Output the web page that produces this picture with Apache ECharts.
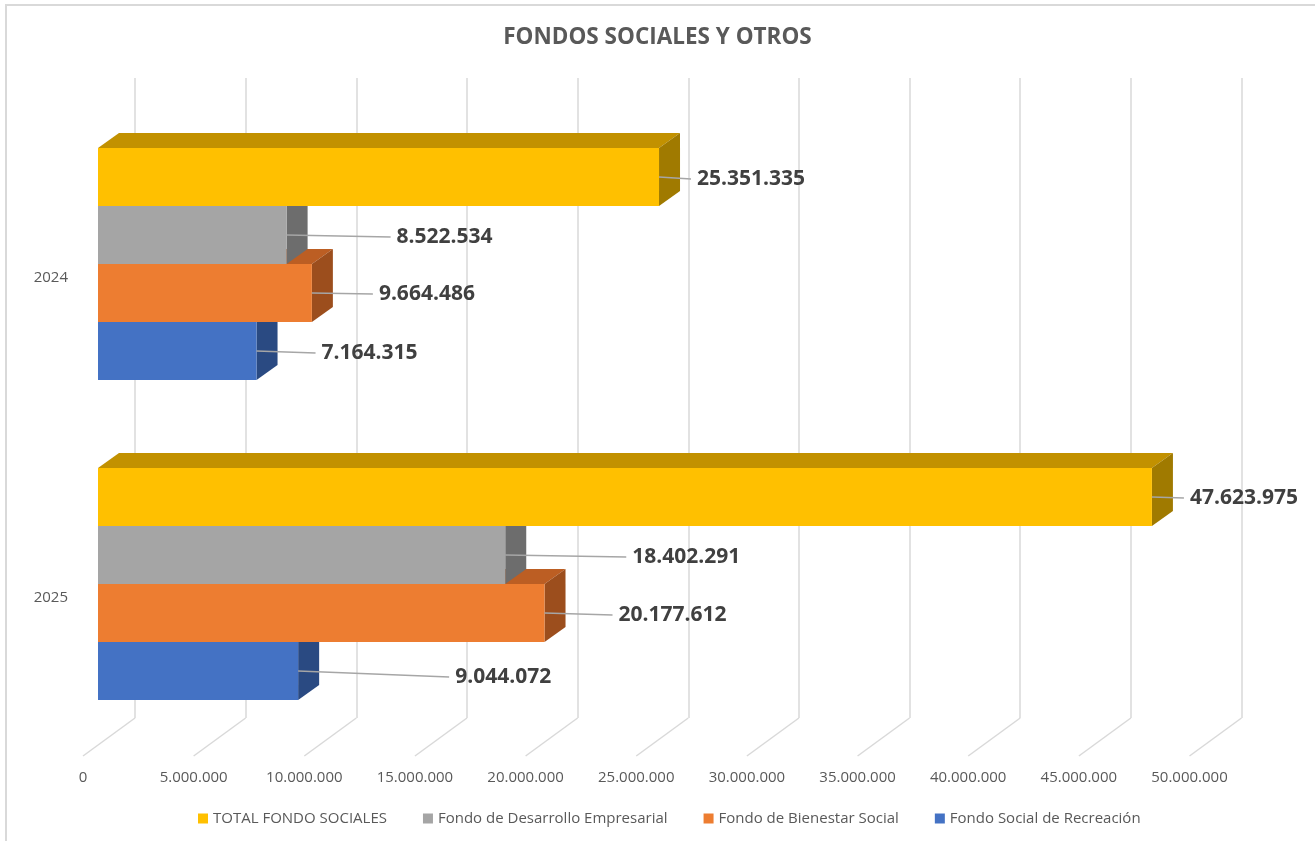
<!DOCTYPE html>
<html>
<head>
<meta charset="utf-8">
<script src="https://cdn.jsdelivr.net/npm/echarts@6/dist/echarts.min.js"></script>
<style>
  html, body { margin: 0; padding: 0; background: #fff; }
  #chart { width: 1315px; height: 841px; }
</style>
</head>
<body>
<div id="chart"></div>
<script>
// data
const years = ['2024', '2025'];
const seriesNames = [
  'TOTAL FONDO SOCIALES',
  'Fondo de Desarrollo Empresarial',
  'Fondo de Bienestar Social',
  'Fondo Social de Recreación',
];
const totalFondos = [25351335, 47623975];
const desarrollo = [8522534, 18402291];
const bienestar = [9664486, 20177612];
const recreacion = [7164315, 9044072];
const tickValues = [0, 5000000, 10000000, 15000000, 20000000, 25000000,
  30000000, 35000000, 40000000, 45000000, 50000000];

// layout of the fake 3D look (pixels)
const DEPTH_X = 21;
const DEPTH_Y = 15;
// distance from bar end to label, and vertical nudge, per series / year
const labelGap = [[38, 38], [110, 127], [67, 74], [65, 157]];
const labelDy = [[2, 1], [2, 2], [1, 2], [2, 6]];

const colors = [
  {front: '#FFC000', top: '#C29100', side: '#A07A00'},
  {front: '#A5A5A5', top: '#7E7E7E', side: '#6D6D6D'},
  {front: '#ED7D31', top: '#BC5E23', side: '#9C4E1D'},
  {front: '#4472C4', top: '#34589A', side: '#2A4A82'},
];
const allValues = [totalFondos, desarrollo, bienestar, recreacion];

const FONT = '"Open Sans", "Noto Sans", sans-serif';

function fmt(v) {
  return String(v).replace(/\B(?=(\d{3})+(?!\d))/g, '.');
}

function makeBar(k) {
  return function (params, api) {
    const v = api.value(0);
    const ci = api.value(1);
    const end = api.coord([v, ci]);
    const start = api.coord([0, ci]);
    const band = api.size([0, 1])[1];
    const h = band * 0.18125;
    const y0 = end[1] - band * 0.3625 + k * h;
    const x0 = start[0];
    const x1 = end[0];
    const c = colors[k];
    const midY = y0 + h / 2;
    const gap = labelGap[k][ci];
    const dy = labelDy[k][ci];
    return {
      type: 'group',
      children: [
        {
          type: 'polygon',
          shape: {points: [[x0, y0], [x1, y0], [x1 + DEPTH_X, y0 - DEPTH_Y], [x0 + DEPTH_X, y0 - DEPTH_Y]]},
          style: {fill: c.top},
        },
        {
          type: 'polygon',
          shape: {points: [[x1, y0], [x1 + DEPTH_X, y0 - DEPTH_Y], [x1 + DEPTH_X, y0 + h - DEPTH_Y], [x1, y0 + h]]},
          style: {fill: c.side},
        },
        {
          type: 'rect',
          shape: {x: x0, y: y0, width: x1 - x0, height: h},
          style: {fill: c.front},
        },
        {
          type: 'line',
          shape: {x1: x1, y1: midY, x2: x1 + gap - 6, y2: midY + dy},
          style: {stroke: '#A6A6A6', lineWidth: 1.5},
        },
        {
          type: 'text',
          style: {
            x: x1 + gap,
            y: midY + dy,
            text: fmt(v),
            fill: '#404040',
            font: 'bold 21px ' + FONT,
            align: 'left',
            verticalAlign: 'middle',
          },
        },
      ],
    };
  };
}

const chart = echarts.init(document.getElementById('chart'), null, {renderer: 'canvas'});

const barSeries = [];
// draw from the lowest bar up so upper bars cover the hidden faces
for (let k = 3; k >= 0; k--) {
  barSeries.push({
    name: seriesNames[k],
    type: 'custom',
    xAxisIndex: 0,
    yAxisIndex: 0,
    clip: false,
    itemStyle: {color: colors[k].front},
    renderItem: makeBar(k),
    encode: {x: 0, y: 1},
    data: years.map((y, i) => [allValues[k][i], i]),
  });
}

const option = {
  backgroundColor: '#fff',
  animation: false,
  title: {
    text: 'FONDOS SOCIALES Y OTROS',
    left: 'center',
    top: 21,
    textStyle: {color: '#595959', fontSize: 22.5, fontWeight: 'bold', fontFamily: FONT},
  },
  legend: {
    data: seriesNames,
    left: 193,
    top: 806,
    icon: 'rect',
    itemWidth: 10,
    itemHeight: 10,
    itemGap: 36,
    textStyle: {color: '#595959', fontSize: 15, fontFamily: FONT},
  },
  graphic: [{
    type: 'rect',
    silent: true,
    shape: {x: 6, y: 5, width: 1330, height: 860},
    style: {fill: 'none', stroke: '#D9D9D9', lineWidth: 2},
  }],
  grid: [
    {left: 98, right: 110.5, top: 104, height: 640},
    {left: 135, right: 73.5, top: 78, height: 640},
    {left: 83, right: 125.5, top: 100, height: 656},
  ],
  xAxis: [
    {gridIndex: 0, type: 'value', min: 0, max: 50000000, interval: 5000000, show: false},
    {
      gridIndex: 1, type: 'value', min: 0, max: 50000000, interval: 5000000,
      axisLine: {show: false}, axisTick: {show: false}, axisLabel: {show: false},
      splitLine: {show: true, lineStyle: {color: '#D9D9D9', width: 1.5}},
    },
    {
      gridIndex: 2, type: 'value', min: 0, max: 50000000, interval: 5000000,
      axisLine: {show: false}, axisTick: {show: false}, splitLine: {show: false},
      axisLabel: {margin: 14, color: '#595959', fontSize: 15, fontFamily: FONT, formatter: fmt},
    },
  ],
  yAxis: [
    {
      gridIndex: 0, type: 'category', data: years, inverse: true,
      axisLine: {show: false}, axisTick: {show: false}, splitLine: {show: false},
      axisLabel: {
        margin: 30, color: '#595959', fontSize: 15, fontFamily: FONT,
        verticalAlign: 'top', lineHeight: 28,
      },
    },
    {gridIndex: 1, type: 'value', min: 0, max: 1, show: false},
    {gridIndex: 2, type: 'value', min: 0, max: 1, show: false},
  ],
  series: [
    {
      type: 'custom',
      xAxisIndex: 1,
      yAxisIndex: 1,
      silent: true,
      clip: false,
      renderItem: function (params, api) {
        const p = api.coord([api.value(0), 0]);
        return {
          type: 'line',
          shape: {x1: p[0], y1: p[1], x2: p[0] - 52, y2: p[1] + 38},
          style: {stroke: '#D9D9D9', lineWidth: 1.5},
        };
      },
      data: tickValues.map(v => [v, 0]),
    },
  ].concat(barSeries),
};

chart.setOption(option);
</script>
</body>
</html>
